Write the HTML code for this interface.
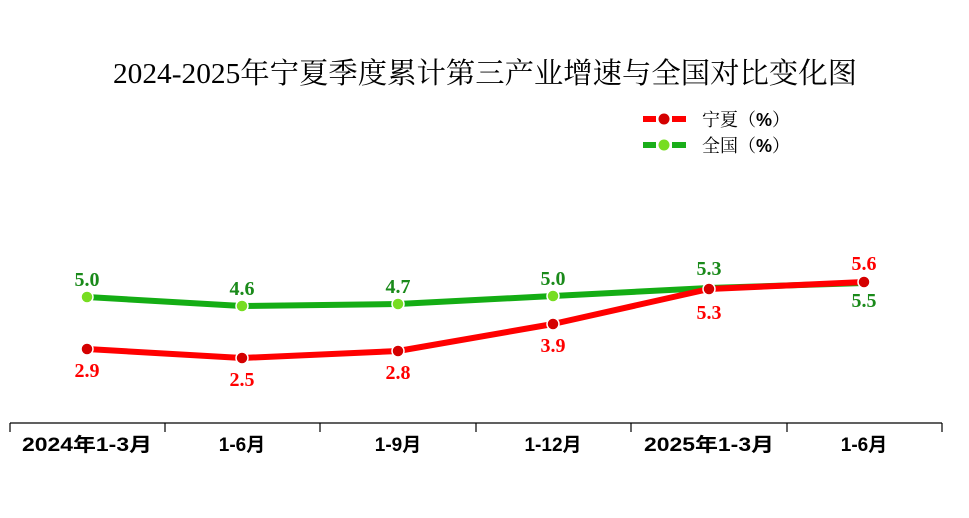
<!DOCTYPE html>
<html><head><meta charset="utf-8"><style>
html,body{margin:0;padding:0;background:#fff;}
svg{display:block;}
</style></head><body>
<svg width="969" height="518" xmlns="http://www.w3.org/2000/svg">
<text x="485" y="83" text-anchor="middle" font-family="'Liberation Serif','Noto Serif CJK SC',serif" font-size="29" fill="#000" textLength="744" lengthAdjust="spacingAndGlyphs">2024-2025年宁夏季度累计第三产业增速与全国对比变化图</text>
<g>
<line x1="643" y1="119" x2="656" y2="119" stroke="#f00" stroke-width="6"/>
<line x1="672" y1="119" x2="686" y2="119" stroke="#f00" stroke-width="6"/>
<circle cx="664" cy="119" r="5.5" fill="#d40000"/>
<line x1="643" y1="145" x2="656" y2="145" stroke="#1aae1a" stroke-width="6"/>
<line x1="672" y1="145" x2="686" y2="145" stroke="#1aae1a" stroke-width="6"/>
<circle cx="664" cy="145" r="5.5" fill="#77dd22"/>
</g>
<g font-family="'Liberation Serif','Noto Serif CJK SC',serif" font-size="18" fill="#000">
<text x="702" y="126">宁夏（<tspan font-family="'Liberation Sans',sans-serif" font-weight="bold">%</tspan>）</text>
<text x="702" y="152">全国（<tspan font-family="'Liberation Sans',sans-serif" font-weight="bold">%</tspan>）</text>
</g>
<polyline points="87,297 242,306 398,304 553,296 709,288 864,283" fill="none" stroke="#14ad14" stroke-width="6" stroke-linejoin="round"/>
<polyline points="87,349 242,358 398,351 553,324 709,289 864,282" fill="none" stroke="#f00" stroke-width="6" stroke-linejoin="round"/>
<g fill="#77dd22" stroke="#fff" stroke-width="1.5">
<circle cx="87" cy="297" r="6"/><circle cx="242" cy="306" r="6"/><circle cx="398" cy="304" r="6"/><circle cx="553" cy="296" r="6"/>
</g>
<g fill="#d40000" stroke="#fff" stroke-width="1.5">
<circle cx="87" cy="349" r="6"/><circle cx="242" cy="358" r="6"/><circle cx="398" cy="351" r="6"/><circle cx="553" cy="324" r="6"/><circle cx="709" cy="289" r="6"/><circle cx="864" cy="282" r="6"/>
</g>
<g font-family="'Liberation Serif',serif" font-size="20" font-weight="bold" text-anchor="middle" fill="#1a8a1a">
<text x="87" y="286">5.0</text><text x="242" y="295">4.6</text><text x="398" y="293">4.7</text><text x="553" y="285">5.0</text><text x="709" y="275">5.3</text><text x="864" y="307">5.5</text>
</g>
<g font-family="'Liberation Serif',serif" font-size="20" font-weight="bold" text-anchor="middle" fill="#f00">
<text x="87" y="377">2.9</text><text x="242" y="386">2.5</text><text x="398" y="379">2.8</text><text x="553" y="352">3.9</text><text x="709" y="319">5.3</text><text x="864" y="270">5.6</text>
</g>
<g stroke="#000" stroke-width="1.2">
<line x1="10" y1="423" x2="942" y2="423"/>
<line x1="10" y1="423" x2="10" y2="432"/><line x1="165" y1="423" x2="165" y2="432"/><line x1="320" y1="423" x2="320" y2="432"/><line x1="476" y1="423" x2="476" y2="432"/><line x1="631" y1="423" x2="631" y2="432"/><line x1="787" y1="423" x2="787" y2="432"/><line x1="942" y1="423" x2="942" y2="432"/>
</g>
<g font-family="'Liberation Sans','Noto Sans CJK SC',sans-serif" font-size="19" font-weight="bold" text-anchor="middle" fill="#000">
<text x="87" y="451" textLength="130" lengthAdjust="spacingAndGlyphs">2024年1-3月</text><text x="242" y="451">1-6月</text><text x="398" y="451">1-9月</text><text x="553" y="451">1-12月</text><text x="709" y="451" textLength="130" lengthAdjust="spacingAndGlyphs">2025年1-3月</text><text x="864" y="451">1-6月</text>
</g>
</svg>
</body></html>
